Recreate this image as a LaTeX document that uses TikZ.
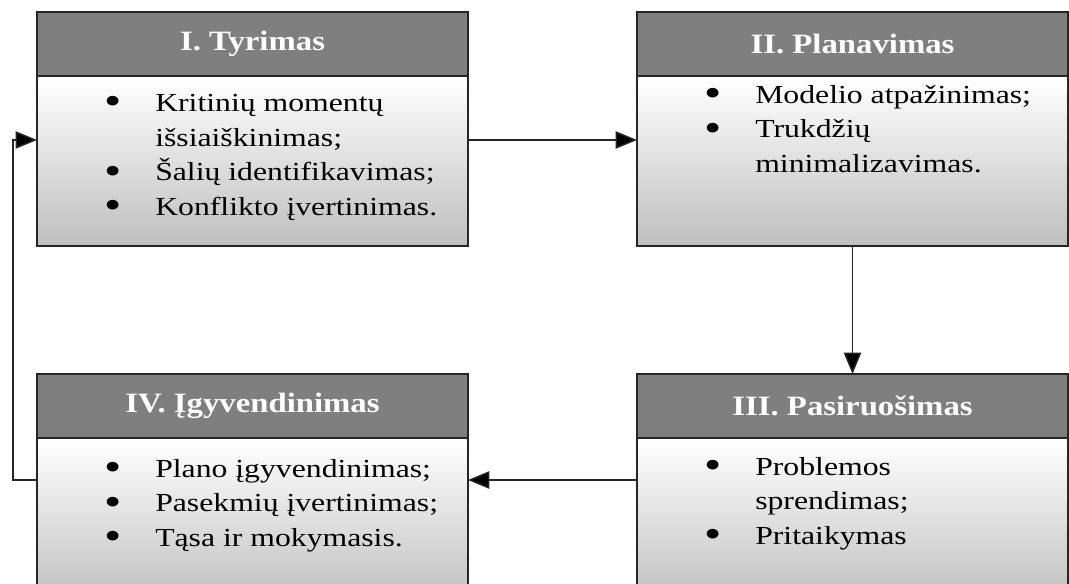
\documentclass[tikz,border=0pt]{standalone}
\usepackage{fontspec}
\setmainfont{Liberation Serif}
\newfontfamily\bodyfont{Liberation Serif}[FakeStretch=1.22]
\newfontfamily\headfont{Liberation Serif}[FakeStretch=1.17]
\usetikzlibrary{arrows.meta}
\definecolor{hdrgray}{HTML}{7F7F7F}
\definecolor{botgray}{HTML}{BFBFBF}
\definecolor{edge}{HTML}{262626}
\newcommand\bt{\makebox[35.25pt][l]{\hspace*{-3pt}\raisebox{-2.6pt}{\scalebox{1.55}{\textbullet}}}}
\newcommand\nb{\hspace*{35.25pt}}
\tikzset{
  x=0.75pt, y=-0.75pt,
  hdr/.style={draw=edge, line width=1.1pt, fill=hdrgray, anchor=north west,
    minimum width=323.25pt, minimum height=48pt, inner sep=0pt, outer sep=0pt,
    text=white, font=\headfont\bfseries\fontsize{21pt}{25pt}\selectfont},
  bodyA/.style={draw=edge, line width=1.1pt, top color=white, bottom color=botgray,
    anchor=north west, minimum width=323.25pt, minimum height=127.5pt,
    inner sep=0pt, outer sep=0pt},
  bodyB/.style={bodyA, minimum height=124pt},
  txt/.style={anchor=north west, align=left, inner sep=0pt,
    font=\bodyfont\fontsize{19.5pt}{25.9pt}\selectfont},
  arr/.style={draw=edge, line width=1.1pt, -{Triangle[length=16pt,width=13pt,fill=black]}}
}
\begin{document}
\begin{tikzpicture}
\useasboundingbox (0,0) rectangle (1069,584);
\clip (0,0) rectangle (1069,584);
% box I
\node[bodyA] (b1) at (37,76) {};
\node[hdr] (h1) at (37,12) {I. Tyrimas};
\node[txt] (t1) at (108,94) {\bt Kritinių momentų\\ \nb išsiaiškinimas;\\ \bt Šalių identifikavimas;\\ \bt Konflikto įvertinimas.};
% box II
\node[bodyA] (b2) at (637,76) {};
\node[hdr] (h2) at (637,12) {II. Planavimas};
\node[txt] (t2) at (708,85) {\bt Modelio atpažinimas;\\ \bt Trukdžių\\ \nb minimalizavimas.};
% box III
\node[bodyB] (b3) at (637,438) {};
\node[hdr] (h3) at (637,374) {III. Pasiruošimas};
\node[txt] (t3) at (708,457) {\bt Problemos\\ \nb sprendimas;\\ \bt Pritaikymas};
% box IV
\node[bodyB] (b4) at (37,438) {};
\node[hdr] (h4) at (37,374) {IV. Įgyvendinimas};
\node[txt] (t4) at (108,459) {\bt Plano įgyvendinimas;\\ \bt Pasekmių įvertinimas;\\ \bt Tąsa ir mokymasis.};
% connectors
\coordinate (yA) at (0,140);
\coordinate (yB) at (0,480);
\coordinate (xF) at (13,0);
\draw[arr] (b1.east |- yA) -- (b2.west |- yA);
\draw[arr] (b2.south) -- (h3.north);
\draw[arr] (b3.west |- yB) -- (b4.east |- yB);
\draw[arr] (b4.west |- yB) -- (xF |- yB) -- (xF |- yA) -- (b1.west |- yA);
\end{tikzpicture}
\end{document}
